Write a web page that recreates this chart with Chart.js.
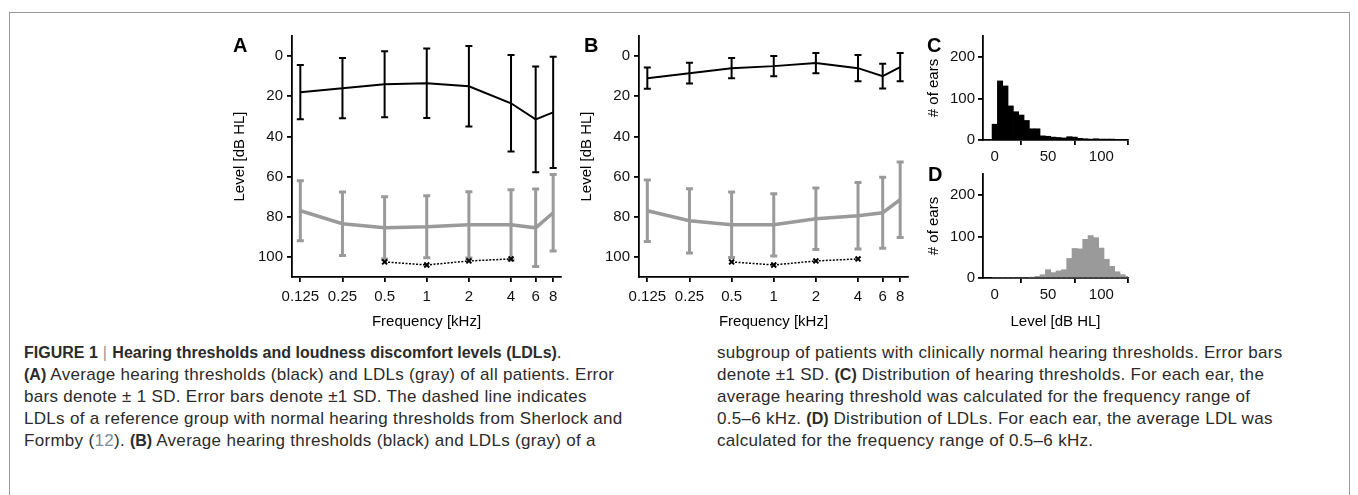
<!DOCTYPE html>
<html lang="en">
<head>
<meta charset="UTF-8">
<title>Figure 1 - Hearing thresholds and LDLs</title>
<script src="https://cdn.jsdelivr.net/npm/chart.js"></script>
<style>
    body {
        margin: 0;
        width: 1358px;
        height: 495px;
        background: #fff;
        font-family: "Liberation Sans", Arial, sans-serif;
        overflow: hidden;
        position: relative;
    }
    .frame {
        position: absolute;
        left: 9px;
        top: 12px;
        width: 1339px;
        height: 520px;
        border: 1px solid #999;
    }
    canvas { position: absolute; }
    .letter {
        position: absolute;
        font-weight: bold;
        font-size: 20px;
        line-height: 20px;
        color: #000;
    }
    .cap {
        position: absolute;
        font-size: 17px;
        letter-spacing: 0.3px;
        line-height: 22px;
        color: #2b2b2b;
        white-space: nowrap;
    }
    .cap b {
        font-size: 16px;
        letter-spacing: 0;
    }
    .ref { color: #7d8a96; }
</style>
</head>
<body>
<div class="frame"></div>

<canvas id="chartA" width="370" height="320" style="left:200px; top:20px;"></canvas>
<canvas id="chartB" width="370" height="320" style="left:547px; top:20px;"></canvas>
<canvas id="chartC" width="220" height="160" style="left:920px; top:20px;"></canvas>
<canvas id="chartD" width="220" height="182" style="left:920px; top:158px;"></canvas>

<div class="letter" style="left:233px; top:35px;">A</div>
<div class="letter" style="left:584px; top:35px;">B</div>
<div class="letter" style="left:927px; top:35px;">C</div>
<div class="letter" style="left:928px; top:164px;">D</div>

<!-- Caption -->
<div class="cap" style="left:24px; top:342px;"><b>FIGURE 1</b> <span style="color:#999; font-size:16px">|</span> <b>Hearing thresholds and loudness discomfort levels (LDLs)</b>.</div>
<div class="cap" style="left:24px; top:364px;"><b>(A)</b> Average hearing thresholds (black) and LDLs (gray) of all patients. Error</div>
<div class="cap" style="left:24px; top:386px;">bars denote ± 1 SD. Error bars denote ±1 SD. The dashed line indicates</div>
<div class="cap" style="left:24px; top:408px;">LDLs of a reference group with normal hearing thresholds from Sherlock and</div>
<div class="cap" style="left:24px; top:430px;">Formby (<span class="ref">12</span>). <b>(B)</b> Average hearing thresholds (black) and LDLs (gray) of a</div>

<div class="cap" style="left:717px; top:342px;">subgroup of patients with clinically normal hearing thresholds. Error bars</div>
<div class="cap" style="left:717px; top:364px;">denote ±1 SD. <b>(C)</b> Distribution of hearing thresholds. For each ear, the</div>
<div class="cap" style="left:717px; top:386px;">average hearing threshold was calculated for the frequency range of</div>
<div class="cap" style="left:717px; top:408px;">0.5–6 kHz. <b>(D)</b> Distribution of LDLs. For each ear, the average LDL was</div>
<div class="cap" style="left:717px; top:430px;">calculated for the frequency range of 0.5–6 kHz.</div>

<script>
    // Frequencies (kHz) and axis ticks
    const freqs = [0.125, 0.25, 0.5, 1, 2, 4, 6, 8];
    const levelTicks = [0, 20, 40, 60, 80, 100];
    const countTicks = [0, 100, 200];
    const histTicks = [0, 50, 100];

    // Panel A: all patients
    const thrA = [18, 16, 14, 13.5, 15, 23.5, 31.5, 28];
    const thrA_sd = [13.5, 15, 16.4, 17.3, 20, 24, 26.3, 27.7];
    const ldlA = [77, 83.5, 85.5, 85, 84, 84, 85.5, 78];
    const ldlA_sd = [14.9, 15.8, 15.5, 15.4, 16.5, 17.5, 19.3, 19];

    // Panel B: clinically normal hearing subgroup
    const thrB = [11, 8.5, 6, 5, 3.5, 6, 10, 5.5];
    const thrB_sd = [5.3, 5.2, 5, 5, 5, 6.5, 6.2, 7];
    const ldlB = [77, 82, 84, 84, 81, 79.5, 78, 71.5];
    const ldlB_sd = [15.3, 16, 16.3, 15.5, 15.3, 16.6, 17.7, 18.8];

    // Reference LDLs (Sherlock and Formby)
    const refFreqs = [0.5, 1, 2, 4];
    const refLdl = [102.5, 104, 102, 101];

    // Panels C and D: histograms, 5 dB bins
    const binCenters = [0, 5, 10, 15, 20, 25, 30, 35, 40, 45, 50, 55, 60, 65, 70, 75, 80, 85, 90, 95, 100, 105, 110, 115, 120, 125];
    const histC = [38, 142, 130, 82, 68, 60, 47, 27, 27, 10, 9, 7, 6, 5, 8, 7, 4, 3, 2, 3, 2, 1, 1, 0, 0, 0];
    const histD = [0, 0, 0, 0, 0, 0, 0, 2, 4, 8, 20, 13, 17, 20, 47, 71, 70, 93, 102, 97, 72, 45, 28, 15, 8, 4];

    const GRAY = '#9a9a9a';

    Chart.defaults.font.family = '"Liberation Sans", Arial, sans-serif';
    Chart.defaults.font.size = 15;
    Chart.defaults.color = '#111';
    Chart.defaults.animation = false;

    // draws +-1 SD bars from dataset.sd
    const errorBars = {
        id: 'errorBars',
        beforeDatasetsDraw(chart) {
            const ctx = chart.ctx;
            const x = chart.scales.x, y = chart.scales.y;
            chart.data.datasets.forEach(ds => {
                if (!ds.sd) return;
                ctx.save();
                ctx.strokeStyle = ds.borderColor;
                ctx.lineWidth = ds.errWidth;
                ds.data.forEach((p, j) => {
                    const px = x.getPixelForValue(p.x);
                    const top = y.getPixelForValue(p.y - ds.sd[j]);
                    const bot = y.getPixelForValue(p.y + ds.sd[j]);
                    const c = 3.5;
                    ctx.beginPath();
                    ctx.moveTo(px, top); ctx.lineTo(px, bot);
                    ctx.moveTo(px - c, top); ctx.lineTo(px + c, top);
                    ctx.moveTo(px - c, bot); ctx.lineTo(px + c, bot);
                    ctx.stroke();
                });
                ctx.restore();
            });
        }
    };

    function pts(xs, ys) {
        return xs.map((v, i) => ({ x: v, y: ys[i] }));
    }

    function axisBase() {
        return {
            border: { display: true, color: '#000', width: 1.8 },
            grid: { display: true, drawOnChartArea: false, color: '#000', lineWidth: 1.8, tickLength: 5 },
        };
    }

    function levelChart(id, thr, thrSd, ldl, ldlSd) {
        return new Chart(document.getElementById(id), {
            type: 'line',
            data: {
                datasets: [
                    {
                        data: pts(freqs, ldl), sd: ldlSd, errWidth: 3,
                        borderColor: GRAY, borderWidth: 3.5, pointRadius: 0, tension: 0
                    },
                    {
                        data: pts(freqs, thr), sd: thrSd, errWidth: 2,
                        borderColor: '#000', borderWidth: 2, pointRadius: 0, tension: 0
                    },
                    {
                        data: pts(refFreqs, refLdl),
                        borderColor: '#000', borderWidth: 1.5, borderDash: [2, 1.5],
                        pointStyle: 'crossRot', pointRadius: 3.5, pointBorderWidth: 2,
                        pointBorderColor: '#000', tension: 0
                    }
                ]
            },
            options: {
                responsive: false,
                layout: { padding: { top: 16, right: 9, left: 0, bottom: 0 } },
                plugins: { legend: { display: false }, tooltip: { enabled: false } },
                scales: {
                    x: Object.assign(axisBase(), {
                        type: 'logarithmic',
                        min: 0.109,
                        max: 9.1,
                        afterBuildTicks: s => { s.ticks = freqs.map(v => ({ value: v })); },
                        afterFit: s => { s.height = 63; },
                        ticks: { autoSkip: false, maxRotation: 0, padding: 6, callback: v => String(v) },
                        title: { display: true, text: 'Frequency [kHz]', color: '#000', padding: { top: 0, bottom: 9 } }
                    }),
                    y: Object.assign(axisBase(), {
                        type: 'linear',
                        reverse: true,
                        min: -10,
                        max: 110,
                        afterBuildTicks: s => { s.ticks = levelTicks.map(v => ({ value: v })); },
                        afterFit: s => { s.width = 92; },
                        ticks: { padding: 4 },
                        title: { display: true, text: 'Level [dB HL]', color: '#000', padding: { top: 31, bottom: 0 } }
                    })
                }
            },
            plugins: [errorBars]
        });
    }

    function histChart(id, counts, color, xHeight, showTitle) {
        return new Chart(document.getElementById(id), {
            type: 'bar',
            data: {
                datasets: [{
                    data: pts(binCenters, counts),
                    backgroundColor: color,
                    borderWidth: 0,
                    barPercentage: 1,
                    categoryPercentage: 1
                }]
            },
            options: {
                responsive: false,
                layout: { padding: { top: 16, right: 12, left: 0, bottom: 0 } },
                plugins: { legend: { display: false }, tooltip: { enabled: false } },
                scales: {
                    x: Object.assign(axisBase(), {
                        type: 'linear',
                        offset: false,
                        min: -11,
                        max: 125,
                        afterBuildTicks: s => { s.ticks = histTicks.map(v => ({ value: v })); },
                        afterFit: s => { s.height = xHeight; },
                        ticks: { autoSkip: false, maxRotation: 0, padding: 3 },
                        title: { display: showTitle, text: 'Level [dB HL]', color: '#000', padding: { top: 0, bottom: 9 } }
                    }),
                    y: Object.assign(axisBase(), {
                        type: 'linear',
                        min: 0,
                        max: 250,
                        afterBuildTicks: s => { s.ticks = countTicks.map(v => ({ value: v })); },
                        afterFit: s => { s.width = 63; },
                        ticks: { padding: 3 },
                        title: { display: true, text: '# of ears', color: '#000', padding: { top: 5, bottom: 0 } }
                    })
                }
            }
        });
    }

    levelChart('chartA', thrA, thrA_sd, ldlA, ldlA_sd);
    levelChart('chartB', thrB, thrB_sd, ldlB, ldlB_sd);
    histChart('chartC', histC, '#000', 40, false);
    histChart('chartD', histD, GRAY, 62, true);
</script>
</body>
</html>
